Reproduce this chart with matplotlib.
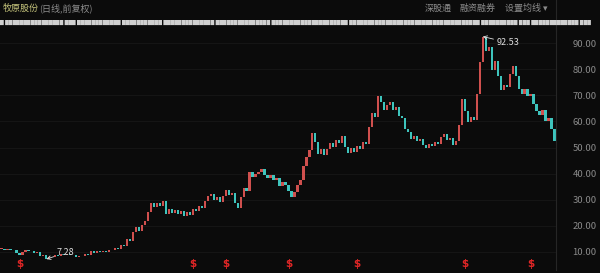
import matplotlib.pyplot as plt
from matplotlib.lines import Line2D

plt.rcParams['font.family'] = ['Noto Sans CJK SC', 'DejaVu Sans']

# daily closes (front-adjusted), oldest first
closes = [
    11.2, 10.7, 11.1, 10.6, 10.9, 9.8, 8.9, 10.1, 10.6, 10.2,
    10.4, 9.6, 9.9, 8.6, 8.9, 7.28, 8.2, 7.9, 8.8, 8.5,
    9.2, 8.9, 9.4, 9.0, 8.7, 8.1, 8.6, 8.3, 9.2, 9.0,
    10.2, 9.8, 10.5, 10.0, 10.4, 10.1, 10.9, 10.6, 11.6, 11.3,
    12.6, 12.2, 15.1, 14.4, 17.8, 19.6, 18.2, 20.4, 21.9, 25.3,
    28.6, 27.4, 28.9, 27.6, 29.6, 24.6, 26.4, 24.8, 26.1, 24.4,
    25.6, 23.8, 25.3, 24.3, 26.5, 25.8, 27.6, 26.9, 29.5, 31.6,
    32.4, 30.1, 31.2, 29.2, 31.5, 33.6, 31.8, 32.6, 28.9, 26.8,
    31.0, 34.5, 33.4, 40.5, 38.6, 39.9, 40.6, 41.8, 39.4, 38.3,
    39.6, 37.4, 38.2, 35.2, 36.8, 35.6, 33.4, 31.2, 33.0, 35.5,
    37.6, 42.8, 46.3, 49.2, 55.5, 52.1, 47.4, 49.6, 47.0, 49.5,
    51.8, 50.4, 52.9, 51.9, 54.6, 50.2, 47.9, 49.8, 48.3, 50.6,
    49.6, 52.3, 51.2, 58.0, 63.3, 61.8, 69.6, 67.4, 64.5, 66.3,
    67.5, 64.2, 65.6, 62.0, 61.2, 57.0, 55.8, 53.4, 54.6, 52.4,
    53.1, 50.8, 49.9, 51.4, 50.6, 52.0, 51.4, 54.1, 55.3, 53.0,
    53.8, 51.0, 52.4, 58.6, 68.5, 64.0, 59.8, 61.7, 60.4, 70.5,
    82.6, 92.53, 87.0, 88.4, 79.8, 83.3, 77.5, 72.0, 74.1, 73.2,
    78.2, 81.1, 77.4, 72.6, 70.4, 72.3, 69.8, 70.6, 66.8, 64.0,
    62.6, 64.4, 60.3, 61.5, 57.3, 52.6,
]
dividend_days = [6, 64, 75, 96, 119, 155, 177]
price_ticks = [10, 20, 30, 40, 50, 60, 70, 80, 90]

UP = '#d0504e'
DOWN = '#3ec4bd'
BG = '#0b0b0b'

fig = plt.figure(figsize=(6, 2.73), dpi=100, facecolor=BG)
ax = fig.add_axes([0, 3 / 273, 556 / 600, 242 / 273], facecolor=BG)

opens = [closes[0]] + closes[:-1]
xs = list(range(len(closes)))
bottoms = [min(o, c) for o, c in zip(opens, closes)]
heights = [max(abs(c - o), 0.25) for o, c in zip(opens, closes)]
cols = [UP if c >= o else DOWN for o, c in zip(opens, closes)]
ax.bar(xs, heights, bottom=bottoms, width=0.75, color=cols, linewidth=0)

for p in price_ticks:
    ax.axhline(p, color='#181818', lw=0.6, zorder=0)

ax.set_xlim(-0.5, len(closes) - 0.5)
ax.set_ylim(3.1, 95.8)

# extremes
hi = closes.index(max(closes))
lo = closes.index(min(closes))
ax.annotate(f'{closes[hi]:.2f}', xy=(hi, closes[hi]), xytext=(hi + 4.5, closes[hi] - 2.3),
            color='#dddddd', fontsize=6.5, va='center',
            arrowprops=dict(arrowstyle='->', color='#dddddd', lw=0.6, shrinkA=0, shrinkB=0))
ax.annotate(f'{closes[lo]:.2f}', xy=(lo, closes[lo]), xytext=(lo + 3.5, closes[lo] + 2.4),
            color='#dddddd', fontsize=6.5, va='center',
            arrowprops=dict(arrowstyle='->', color='#dddddd', lw=0.6, shrinkA=0, shrinkB=0))

for d in dividend_days:
    ax.text(d, 5.4, '$', color='#e02626', fontsize=7.5, ha='center', va='center',
            family='DejaVu Sans', fontweight='bold')

ax.yaxis.tick_right()
ax.set_yticks(price_ticks)
ax.set_yticklabels([f'{p:.2f}' for p in price_ticks])
ax.tick_params(axis='y', length=0, pad=12, labelsize=6.8, labelcolor='#8a8a8a')
ax.set_xticks([])
for s in ['top', 'bottom', 'left']:
    ax.spines[s].set_visible(False)
ax.spines['right'].set_color('#262626')
ax.spines['right'].set_linewidth(0.8)
fig.add_artist(Line2D([556 / 600, 556 / 600], [1, 242 / 273], color='#262626', lw=0.8))

# header
fig.text(3 / 600, 1 - 8 / 273, '牧原股份', color='#c5c47c', fontsize=6.5, va='center')
fig.text(39 / 600, 1 - 8 / 273, '(日线,前复权)', color='#8c8c8c', fontsize=6.5, va='center')
fig.text(425 / 600, 1 - 8 / 273, '深股通', color='#8c8c8c', fontsize=6.5, va='center')
fig.text(460 / 600, 1 - 8 / 273, '融资融券', color='#8c8c8c', fontsize=6.5, va='center')
fig.text(505 / 600, 1 - 8 / 273, '设置均线 ▾', color='#8c8c8c', fontsize=6.5, va='center')
fig.text(0, 1 - 22 / 273,
         '█ ████████████████ ███ ████████████ ███████████ ██████████████ ███████████████ '
         '█████████████████████ ████████████████████████████████████ ██████████ ███ '
         '█████████████ ███',
         color='#d0d0d0', fontsize=3.4, va='center', family='DejaVu Sans')

fig.savefig('out.png', dpi=100, facecolor=BG)
